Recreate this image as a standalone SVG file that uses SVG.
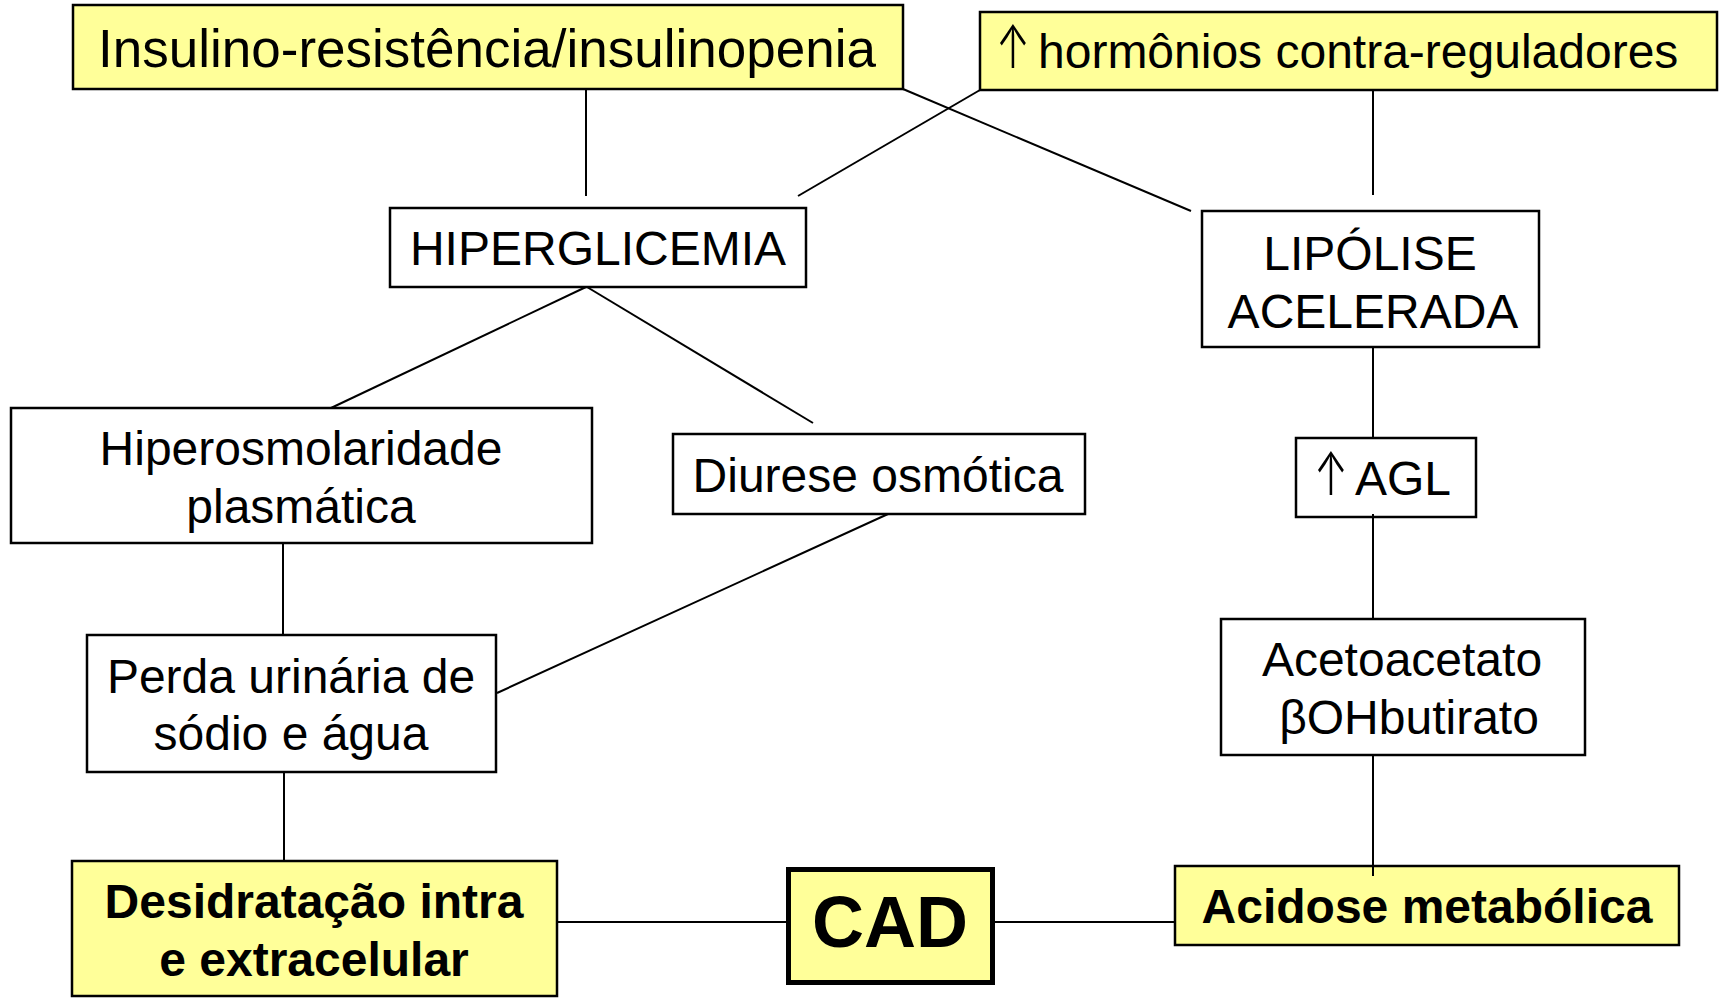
<svg xmlns="http://www.w3.org/2000/svg" width="1720" height="998" viewBox="0 0 1720 998">
<style>
  .box { fill: #FFFFFF; stroke: #000000; stroke-width: 2.5; }
  .ybox { fill: #FFFF99; stroke: #000000; stroke-width: 2.5; }
  .cad { fill: #FFFF99; stroke: #000000; stroke-width: 5; }
  .t { font-family: "Liberation Sans", Arial, sans-serif; font-size: 48px; fill: #000000; text-anchor: middle; }
  .s { text-anchor: start; }
  .arr { font-family: Inter, "DejaVu Sans", sans-serif; font-size: 58px; font-weight: 300; fill: #000000; text-anchor: start; }
  .b { font-weight: bold; }
  .conn line { stroke: #000000; stroke-width: 2; fill: none; }
</style>
<rect x="0" y="0" width="1720" height="998" fill="#FFFFFF"/>
<g id="insulino">
  <rect class="ybox" x="73" y="5" width="830" height="84"/>
  <text class="t" x="487" y="67" style="font-size:53px">Insulino-resistência/insulinopenia</text>
</g>
<g id="hormonios">
  <rect class="ybox" x="980" y="12" width="737" height="78"/>
  <text class="arr" transform="translate(996,68) scale(0.7,1.04)" x="0" y="0">↑</text>
  <text class="t s" x="1038" y="68">hormônios contra-reguladores</text>
</g>
<g id="hiperglicemia">
  <rect class="box" x="390" y="208" width="416" height="79"/>
  <text class="t" x="598" y="265">HIPERGLICEMIA</text>
</g>
<g id="lipolise">
  <rect class="box" x="1202" y="211" width="337" height="136"/>
  <text class="t" x="1370" y="270">LIPÓLISE</text>
  <text class="t" x="1373" y="328">ACELERADA</text>
</g>
<g id="hiperosmolaridade">
  <rect class="box" x="11" y="408" width="581" height="135"/>
  <text class="t" x="301" y="465">Hiperosmolaridade</text>
  <text class="t" x="301" y="523">plasmática</text>
</g>
<g id="diurese">
  <rect class="box" x="673" y="434" width="412" height="80"/>
  <text class="t" x="878" y="492">Diurese osmótica</text>
</g>
<g id="agl">
  <rect class="box" x="1296" y="438" width="180" height="79"/>
  <text class="arr" transform="translate(1314,495) scale(0.7,1.04)" x="0" y="0">↑</text>
  <text class="t s" x="1355" y="495">AGL</text>
</g>
<g id="perda">
  <rect class="box" x="87" y="635" width="409" height="137"/>
  <text class="t" x="291" y="693">Perda urinária de</text>
  <text class="t" x="291" y="750">sódio e água</text>
</g>
<g id="acetoacetato">
  <rect class="box" x="1221" y="619" width="364" height="136"/>
  <text class="t" x="1402" y="676">Acetoacetato</text>
  <text class="t" x="1409" y="734">βOHbutirato</text>
</g>
<g id="desidratacao">
  <rect class="ybox" x="72" y="861" width="485" height="135"/>
  <text class="t b" x="314" y="918">Desidratação intra</text>
  <text class="t b" x="314" y="976">e extracelular</text>
</g>
<g id="cad">
  <rect class="cad" x="788.5" y="869.5" width="204" height="113"/>
  <text class="t b" x="890" y="947" style="font-size:72px">CAD</text>
</g>
<g id="acidose">
  <rect class="ybox" x="1175" y="866" width="504" height="79"/>
  <text class="t b" x="1427" y="923">Acidose metabólica</text>
</g>
<g id="connectors" class="conn">
  <line x1="586" y1="89" x2="586" y2="196"/>
  <line x1="980" y1="90" x2="798" y2="196"/>
  <line x1="903" y1="89" x2="1191" y2="211"/>
  <line x1="1373" y1="90" x2="1373" y2="195"/>
  <line x1="586" y1="287" x2="331" y2="408"/>
  <line x1="587" y1="287" x2="813" y2="423"/>
  <line x1="1373" y1="347" x2="1373" y2="438"/>
  <line x1="1373" y1="514" x2="1373" y2="619"/>
  <line x1="283" y1="543" x2="283" y2="635"/>
  <line x1="888" y1="514" x2="497" y2="693"/>
  <line x1="284" y1="772" x2="284" y2="861"/>
  <line x1="1373" y1="755" x2="1373" y2="876"/>
  <line x1="557" y1="922" x2="786" y2="922"/>
  <line x1="995" y1="922" x2="1175" y2="922"/>
</g>
</svg>
